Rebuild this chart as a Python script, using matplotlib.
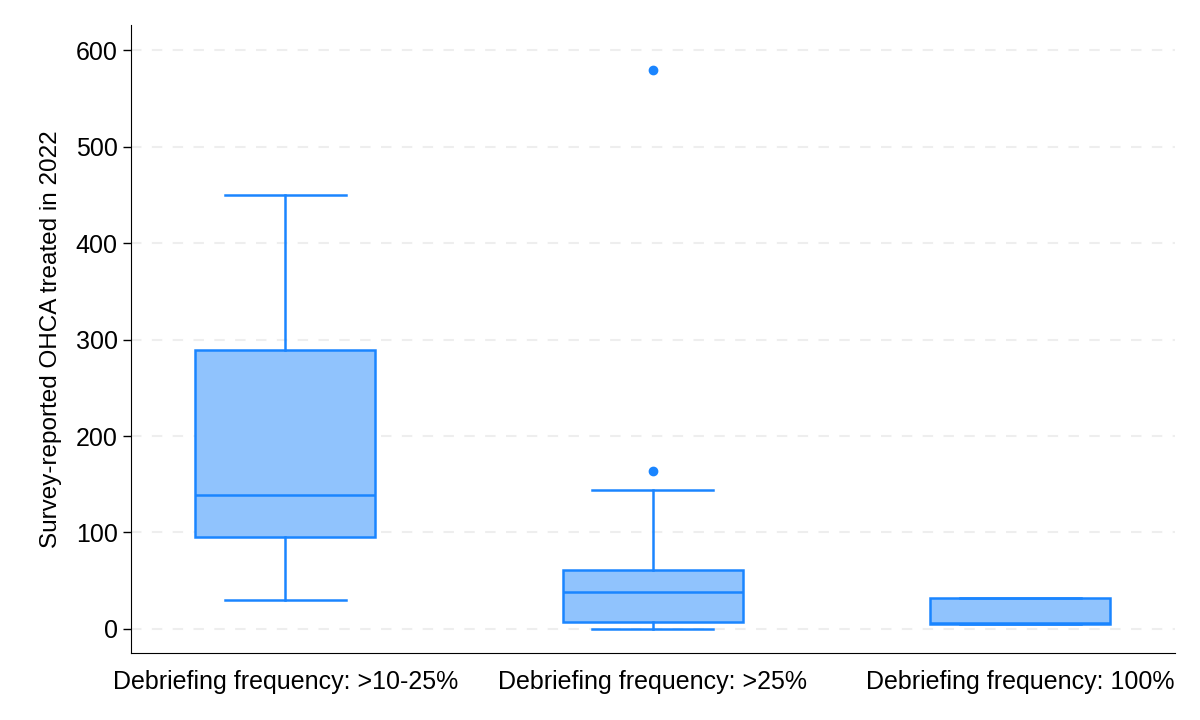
import matplotlib
matplotlib.use("Agg")
import matplotlib.pyplot as plt

plt.rcParams["font.family"] = ["Liberation Sans", "DejaVu Sans"]

categories = [
    "Debriefing frequency: >10-25%",
    "Debriefing frequency: >25%",
    "Debriefing frequency: 100%",
]
whisker_low = [30, 0, 5]
q1 = [95, 7, 5]
median = [139, 38, 6]
q3 = [289, 61, 32]
whisker_high = [450, 144, 32]
outliers = [[], [164, 580], []]

edge = "#1A85FF"
fill = "#90C3FD"

stats = []
for i in range(len(categories)):
    stats.append({
        "whislo": whisker_low[i],
        "q1": q1[i],
        "med": median[i],
        "q3": q3[i],
        "whishi": whisker_high[i],
        "fliers": outliers[i],
        "label": categories[i],
    })

fig = plt.figure(figsize=(12, 7.2), dpi=100)
ax = fig.add_axes([0.109, 0.093, 0.87, 0.872])

ax.bxp(
    stats,
    positions=[1, 2, 3],
    widths=0.49,
    patch_artist=True,
    boxprops=dict(facecolor=fill, edgecolor=edge, linewidth=1.8),
    medianprops=dict(color=edge, linewidth=1.8),
    whiskerprops=dict(color=edge, linewidth=1.8),
    capprops=dict(color=edge, linewidth=1.8),
    capwidths=0.33,
    flierprops=dict(marker="o", markerfacecolor=edge, markeredgecolor=edge, markersize=6),
    zorder=3,
)

ax.set_xlim(0.58, 3.42)
ax.set_ylim(-25, 626)
ax.set_yticks([0, 100, 200, 300, 400, 500, 600])
ax.yaxis.grid(True, linestyle=(0, (5, 5)), color="#EEEEEE", linewidth=1.5, zorder=0)
ax.set_axisbelow(True)

ax.spines["top"].set_visible(False)
ax.spines["right"].set_visible(False)
ax.tick_params(axis="x", length=0, labelsize=18, pad=12)
ax.tick_params(axis="y", length=6, labelsize=18, width=1)
ax.set_ylabel("Survey-reported OHCA treated in 2022", fontsize=17.5, labelpad=10)

fig.savefig("out.png")
